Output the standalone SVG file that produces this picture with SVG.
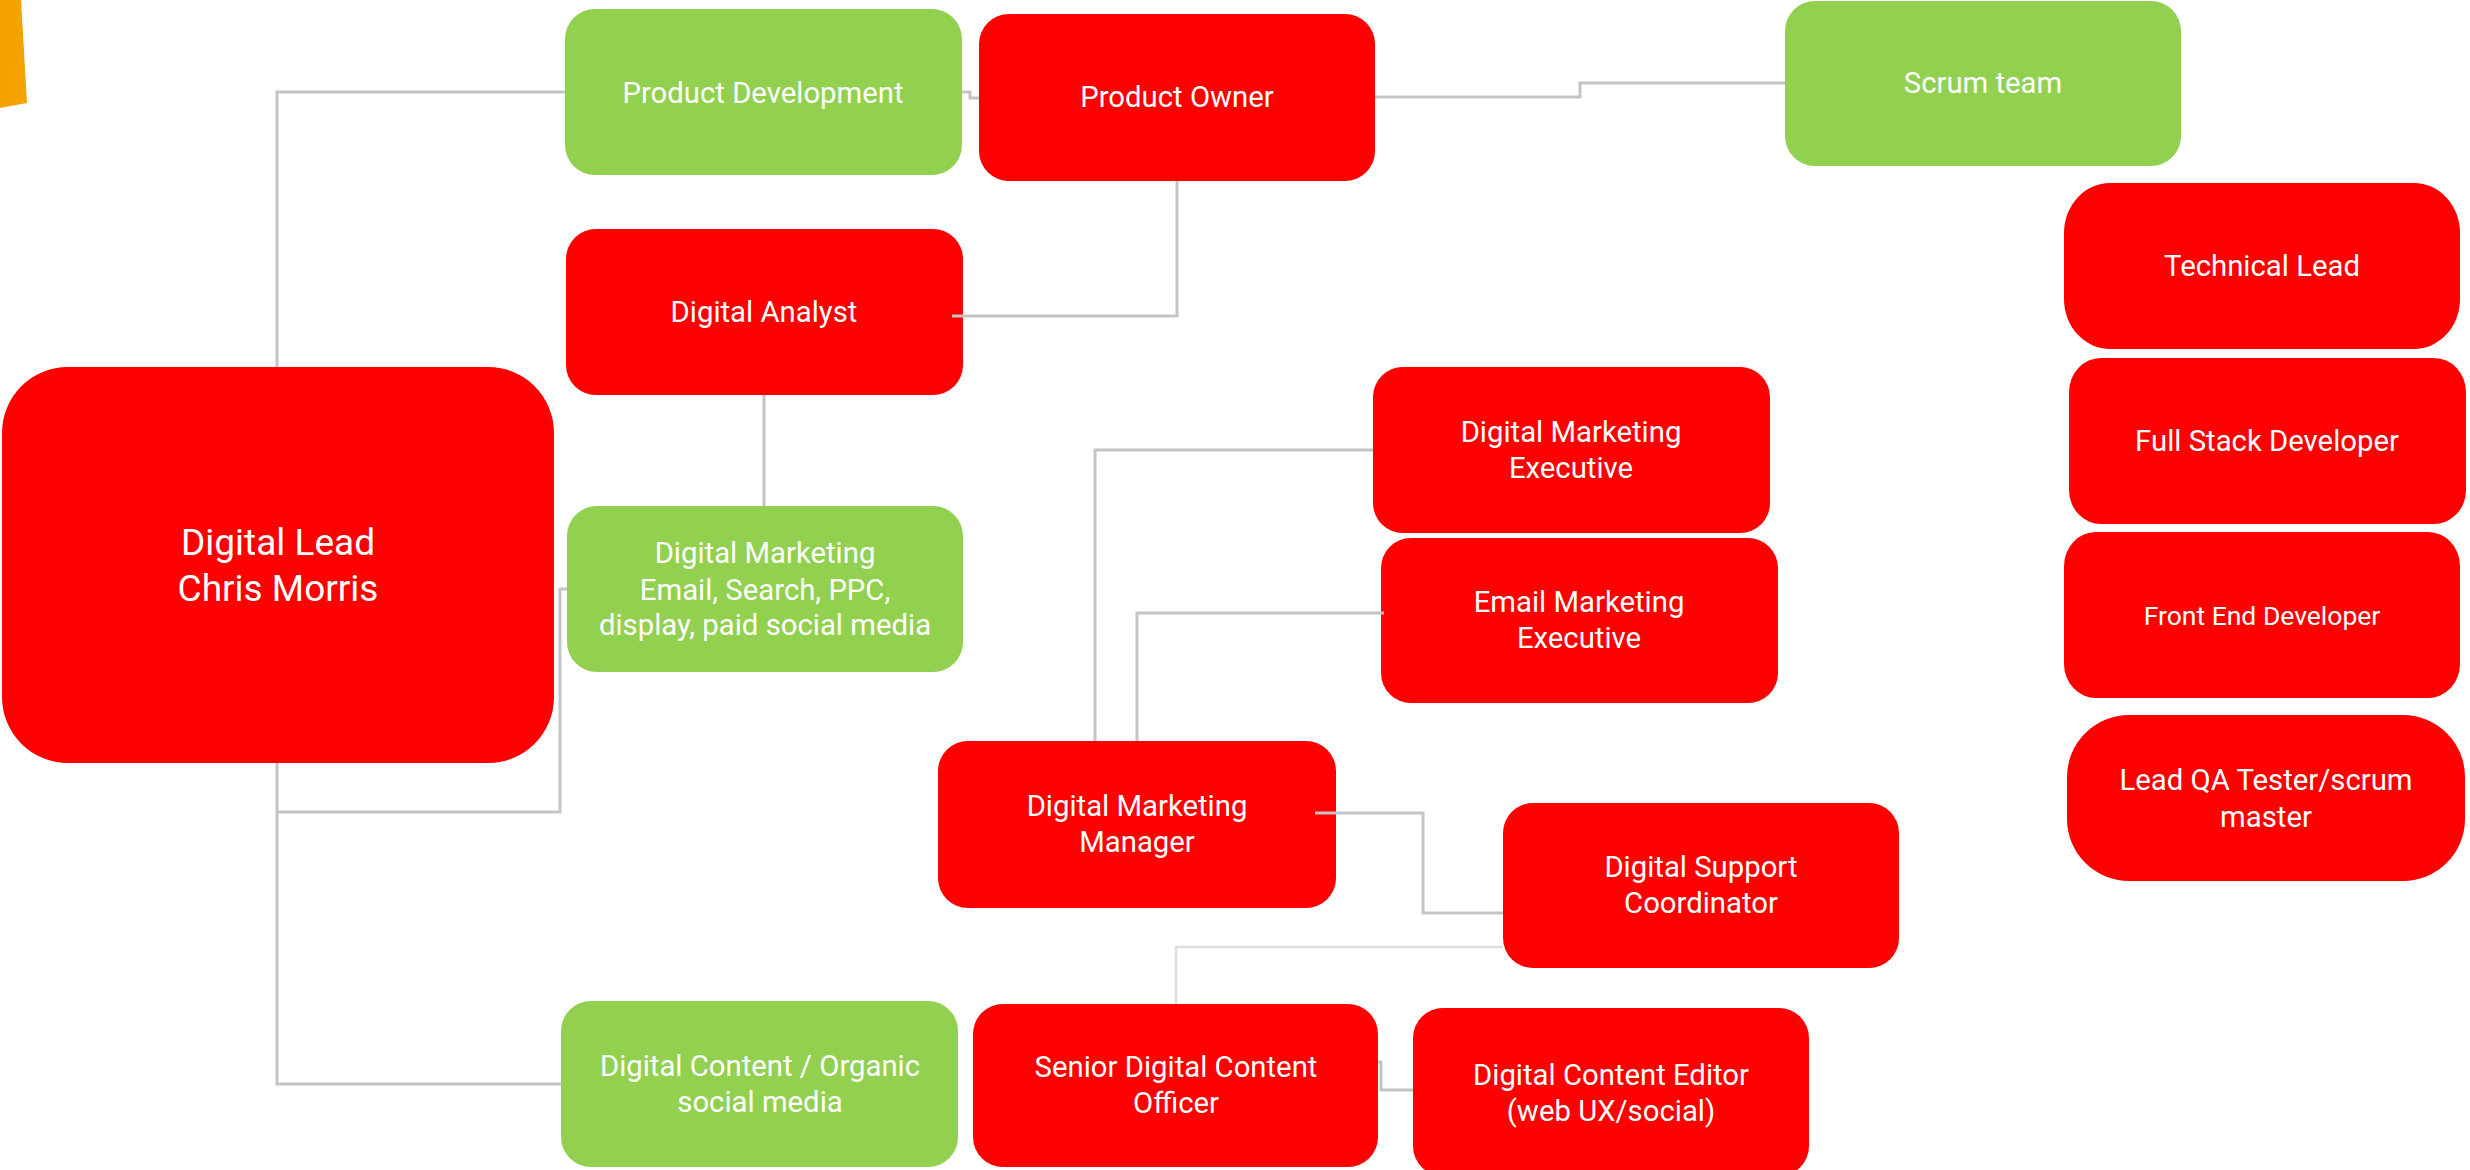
<svg xmlns="http://www.w3.org/2000/svg" width="2470" height="1170" viewBox="0 0 2470 1170">
<style>
.red{fill:#FF0000}
.green{fill:#92D050}
.t{fill:#FFFFFF;font-family:Roboto,"Liberation Sans",sans-serif;font-size:29.3px;text-anchor:middle}
.big{font-size:37px}
.sm{font-size:26.5px}
.c{fill:none;stroke:#C4C4C4;stroke-width:3}
.cf{fill:none;stroke:#E2DEDE;stroke-width:2.5}
</style>
<rect width="2470" height="1170" fill="#FFFFFF"/>
<polygon points="0,0 21,0 27,103 0,108" fill="#F4A300"/>
<g id="digital-lead"><rect class="red" x="2" y="367" width="552" height="396" rx="66" ry="66"/><text class="t big" x="278" y="555">Digital Lead</text><text class="t big" x="278" y="601">Chris Morris</text></g>
<g id="product-development"><rect class="green" x="565" y="9" width="397" height="166" rx="30" ry="30"/><text class="t" x="763" y="103">Product Development</text></g>
<g id="product-owner"><rect class="red" x="979" y="14" width="396" height="167" rx="30" ry="30"/><text class="t" x="1177" y="107">Product Owner</text></g>
<g id="scrum-team"><rect class="green" x="1785" y="1" width="396" height="165" rx="30" ry="30"/><text class="t" x="1983" y="93">Scrum team</text></g>
<g id="digital-analyst"><rect class="red" x="566" y="229" width="397" height="166" rx="30" ry="30"/><text class="t" x="764" y="322">Digital Analyst</text></g>
<g id="digital-marketing"><rect class="green" x="567" y="506" width="396" height="166" rx="30" ry="30"/><text class="t" x="765" y="563">Digital Marketing</text><text class="t" x="765" y="600">Email, Search, PPC,</text><text class="t" x="765" y="635">display, paid social media</text></g>
<g id="digital-marketing-executive"><rect class="red" x="1373" y="367" width="397" height="166" rx="30" ry="30"/><text class="t" x="1571" y="442">Digital Marketing</text><text class="t" x="1571" y="478">Executive</text></g>
<g id="email-marketing-executive"><rect class="red" x="1381" y="538" width="397" height="165" rx="30" ry="30"/><text class="t" x="1579" y="612">Email Marketing</text><text class="t" x="1579" y="648">Executive</text></g>
<g id="digital-marketing-manager"><rect class="red" x="938" y="741" width="398" height="167" rx="30" ry="30"/><text class="t" x="1137" y="816">Digital Marketing</text><text class="t" x="1137" y="852">Manager</text></g>
<g id="digital-support-coordinator"><rect class="red" x="1503" y="803" width="396" height="165" rx="30" ry="30"/><text class="t" x="1701" y="877">Digital Support</text><text class="t" x="1701" y="913">Coordinator</text></g>
<g id="digital-content"><rect class="green" x="561" y="1001" width="397" height="166" rx="30" ry="30"/><text class="t" x="760" y="1076">Digital Content / Organic</text><text class="t" x="760" y="1112">social media</text></g>
<g id="senior-digital-content-officer"><rect class="red" x="973" y="1004" width="405" height="163" rx="30" ry="30"/><text class="t" x="1176" y="1077">Senior Digital Content</text><text class="t" x="1176" y="1113">Officer</text></g>
<g id="digital-content-editor"><rect class="red" x="1413" y="1008" width="396" height="168" rx="30" ry="30"/><text class="t" x="1611" y="1085">Digital Content Editor</text><text class="t" x="1611" y="1121">(web UX/social)</text></g>
<g id="technical-lead"><rect class="red" x="2064" y="183" width="396" height="166" rx="46" ry="50"/><text class="t" x="2262" y="276">Technical Lead</text></g>
<g id="full-stack-developer"><rect class="red" x="2069" y="358" width="397" height="166" rx="32" ry="34"/><text class="t" x="2267" y="451">Full Stack Developer</text></g>
<g id="front-end-developer"><rect class="red" x="2064" y="532" width="396" height="166" rx="32" ry="34"/><text class="t sm" x="2262" y="625">Front End Developer</text></g>
<g id="lead-qa-tester"><rect class="red" x="2067" y="715" width="398" height="166" rx="62" ry="62"/><text class="t" x="2266" y="790">Lead QA Tester/scrum</text><text class="t" x="2266" y="827">master</text></g>
<g id="connectors">
<polyline class="c" points="277,367 277,92 565,92"/>
<polyline class="c" points="962,92 970,92 970,98 979,98"/>
<polyline class="c" points="1375,97 1580,97 1580,83 1785,83"/>
<polyline class="c" points="1177,181 1177,316 952,316"/>
<polyline class="c" points="764,395 764,506"/>
<polyline class="c" points="277,763 277,1084 561,1084"/>
<polyline class="c" points="277,812 560,812 560,589 567,589"/>
<polyline class="c" points="1095,741 1095,450 1373,450"/>
<polyline class="c" points="1137,741 1137,613 1384,613"/>
<polyline class="c" points="1315,813 1423,813 1423,913 1503,913"/>
<polyline class="cf" points="1503,947 1176,947 1176,1004"/>
<polyline class="c" points="1378,1062 1381,1062 1381,1090 1413,1090"/>
</g>
</svg>
